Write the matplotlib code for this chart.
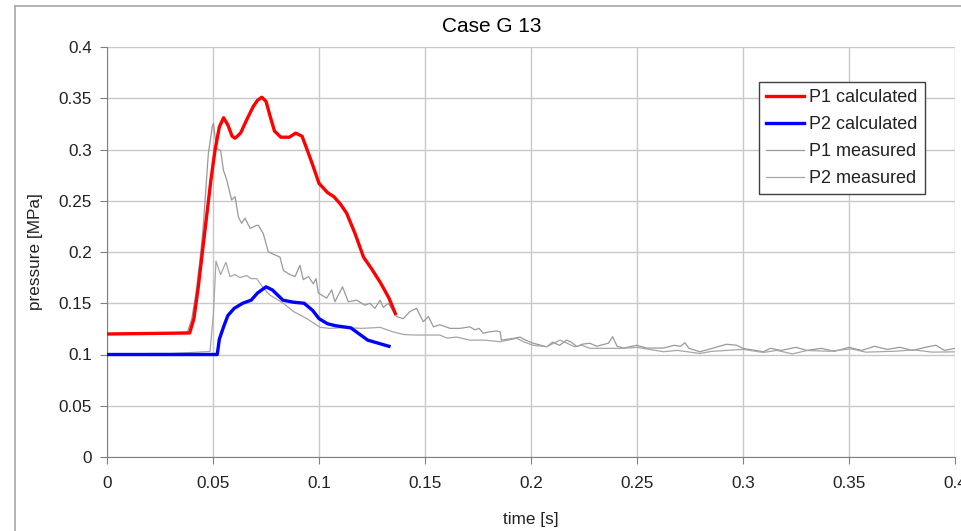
import numpy as np
import matplotlib
matplotlib.use("Agg")
import matplotlib.pyplot as plt
from matplotlib.lines import Line2D

plt.rcParams["font.family"] = ["Liberation Sans", "DejaVu Sans"]

# P1 calculated
t_p1_calc = [0, 0.039, 0.041, 0.043, 0.045, 0.047, 0.049, 0.051, 0.053, 0.055,
             0.057, 0.059, 0.0604, 0.063, 0.0659, 0.069, 0.071, 0.073, 0.075, 0.077,
             0.079, 0.082, 0.086, 0.089, 0.092, 0.094, 0.097, 0.100, 0.104, 0.107,
             0.110, 0.113, 0.117, 0.121, 0.125, 0.129, 0.133, 0.136]
p_p1_calc = [0.12, 0.121, 0.135, 0.165, 0.2, 0.235, 0.27, 0.3, 0.322, 0.331,
             0.324, 0.313, 0.311, 0.316, 0.329, 0.342, 0.348, 0.351, 0.347, 0.332,
             0.318, 0.312, 0.312, 0.316, 0.313, 0.302, 0.285, 0.267, 0.258, 0.254,
             0.247, 0.238, 0.218, 0.195, 0.183, 0.17, 0.155, 0.14]

# P2 calculated
t_p2_calc = [0, 0.052, 0.053, 0.055, 0.057, 0.060, 0.064, 0.068, 0.071, 0.075,
             0.078, 0.083, 0.088, 0.093, 0.097, 0.100, 0.104, 0.108, 0.115, 0.119,
             0.123, 0.128, 0.133]
p_p2_calc = [0.1, 0.1, 0.115, 0.127, 0.138, 0.145, 0.15, 0.153, 0.16, 0.166,
             0.163, 0.153, 0.151, 0.15, 0.143, 0.135, 0.13, 0.128, 0.126, 0.12,
             0.114, 0.111, 0.108]

# P1 measured
t_p1_meas = [0, 0.01, 0.02, 0.03, 0.038, 0.040, 0.042, 0.044, 0.0454, 0.0478,
             0.0497, 0.0502, 0.0517, 0.0536, 0.0549, 0.0565, 0.0588, 0.0604, 0.062, 0.0635,
             0.0651, 0.0675, 0.0706, 0.0714, 0.0737, 0.0761, 0.0816, 0.0832, 0.0863, 0.0887,
             0.091, 0.0926, 0.095, 0.0973, 0.0986, 0.0997, 0.1036, 0.106, 0.1075, 0.1111,
             0.1138, 0.1178, 0.1217, 0.124, 0.1264, 0.1288, 0.1303, 0.1327, 0.1366, 0.1398,
             0.1429, 0.146, 0.1492, 0.1516, 0.154, 0.157, 0.1618, 0.1665, 0.1712, 0.1735,
             0.1755, 0.1775, 0.180, 0.1838, 0.1855, 0.186, 0.1925, 0.1948, 0.1975, 0.201,
             0.2074, 0.2102, 0.2135, 0.2168, 0.219, 0.2217, 0.224, 0.2278, 0.2309, 0.2365,
             0.2385, 0.2406, 0.2437, 0.2498, 0.2545, 0.2625, 0.2676, 0.2705, 0.2726, 0.2745,
             0.2797, 0.2855, 0.2923, 0.297, 0.300, 0.3096, 0.313, 0.318, 0.325, 0.330,
             0.337, 0.343, 0.350, 0.356, 0.362, 0.368, 0.374, 0.380, 0.386, 0.391,
             0.395, 0.400]
p_p1_meas = [0.12, 0.121, 0.12, 0.121, 0.122, 0.135, 0.16, 0.195, 0.225, 0.296,
             0.323, 0.3255, 0.301, 0.299, 0.28, 0.270, 0.2507, 0.254, 0.234, 0.228,
             0.233, 0.223, 0.226, 0.226, 0.218, 0.200, 0.195, 0.182, 0.178, 0.176,
             0.187, 0.173, 0.176, 0.169, 0.174, 0.160, 0.155, 0.163, 0.1515, 0.166,
             0.1515, 0.153, 0.148, 0.150, 0.145, 0.153, 0.146, 0.150, 0.137, 0.135,
             0.142, 0.145, 0.132, 0.137, 0.127, 0.129, 0.1255, 0.1255, 0.127, 0.124,
             0.1255, 0.1207, 0.122, 0.123, 0.122, 0.114, 0.116, 0.117, 0.114, 0.111,
             0.1076, 0.112, 0.109, 0.114, 0.112, 0.1076, 0.110, 0.111, 0.108, 0.111,
             0.1174, 0.108, 0.1063, 0.109, 0.1063, 0.1063, 0.109, 0.108, 0.1115, 0.106,
             0.1027, 0.106, 0.110, 0.109, 0.106, 0.1027, 0.106, 0.104, 0.107, 0.104,
             0.106, 0.103, 0.107, 0.104, 0.108, 0.105, 0.107, 0.104, 0.107, 0.109,
             0.104, 0.106]

# P2 measured
t_p2_meas = [0, 0.01, 0.02, 0.03, 0.04, 0.0486, 0.0502, 0.0514, 0.0536, 0.0561,
             0.058, 0.0604, 0.0627, 0.0659, 0.068, 0.0706, 0.0737, 0.0768, 0.0832, 0.0879,
             0.0942, 0.1005, 0.105, 0.110, 0.115, 0.120, 0.125, 0.1288, 0.135, 0.140,
             0.145, 0.150, 0.157, 0.1604, 0.165, 0.1712, 0.178, 0.1854, 0.189, 0.1933,
             0.197, 0.201, 0.2074, 0.2137, 0.217, 0.2205, 0.224, 0.2278, 0.235, 0.2437,
             0.250, 0.2625, 0.269, 0.2797, 0.285, 0.2923, 0.300, 0.3096, 0.316, 0.3233,
             0.3302, 0.3406, 0.351, 0.358, 0.3719, 0.3806, 0.3892, 0.400]
p_p2_meas = [0.1, 0.1, 0.101, 0.101, 0.102, 0.103, 0.14, 0.191, 0.178, 0.19,
             0.176, 0.178, 0.175, 0.177, 0.174, 0.174, 0.165, 0.158, 0.15, 0.142,
             0.135, 0.1265, 0.1255, 0.126, 0.126, 0.1255, 0.126, 0.1265, 0.122, 0.1195,
             0.119, 0.119, 0.119, 0.116, 0.117, 0.114, 0.114, 0.1125, 0.114, 0.1158,
             0.112, 0.109, 0.1076, 0.114, 0.111, 0.1076, 0.109, 0.106, 0.106, 0.106,
             0.107, 0.1027, 0.104, 0.101, 0.103, 0.104, 0.105, 0.102, 0.104, 0.1006,
             0.1039, 0.1032, 0.1055, 0.1023, 0.1032, 0.1045, 0.1023, 0.1026]

tick_vals = [0, 0.05, 0.1, 0.15, 0.2, 0.25, 0.3, 0.35, 0.4]
tick_labels = ["0", "0.05", "0.1", "0.15", "0.2", "0.25", "0.3", "0.35", "0.4"]

fig = plt.figure(figsize=(9.62, 5.31), dpi=100)
ax = fig.add_axes([107 / 962, 1 - 457 / 531, 848 / 962, 410 / 531])

# outer chart-area border (top and left edges visible)
fig.add_artist(Line2D([15 / 962, 1.0], [1 - 6 / 531, 1 - 6 / 531], transform=fig.transFigure,
                      color="#a8a8a8", lw=1.2))
fig.add_artist(Line2D([15 / 962, 15 / 962], [0, 1 - 6 / 531], transform=fig.transFigure,
                      color="#a8a8a8", lw=1.2))

ax.plot(t_p1_meas, p_p1_meas, color="#999999", lw=0.9, label="P1 measured", zorder=3)
ax.plot(t_p2_meas, p_p2_meas, color="#a6a6a6", lw=0.9, label="P2 measured", zorder=3)
ax.plot(t_p1_calc, p_p1_calc, color="#ff0000", lw=2.4, label="P1 calculated", zorder=4)
ax.plot(t_p2_calc, p_p2_calc, color="#0000ff", lw=2.4, label="P2 calculated", zorder=4)

ax.set_xlim(0, 0.4)
ax.set_ylim(0, 0.4)
ax.set_xticks(tick_vals)
ax.set_xticklabels(tick_labels)
ax.set_yticks(tick_vals)
ax.set_yticklabels(tick_labels)
ax.grid(True, color="#c8c8c8", lw=1)
ax.set_axisbelow(True)
for side in ["top", "right"]:
    ax.spines[side].set_visible(False)
for side in ["left", "bottom"]:
    ax.spines[side].set_color("#808080")
ax.tick_params(direction="out", length=5, color="#808080", labelsize=12.3,
               labelcolor="#222222")
ax.tick_params(axis="x", pad=9)
ax.tick_params(axis="y", pad=6)

ax.set_xlabel("time [s]", fontsize=12.3, color="#222222")
ax.set_ylabel("pressure [MPa]", fontsize=12.3, color="#222222")
ax.xaxis.set_label_coords(0.5, -0.134)
ax.yaxis.set_label_coords(-0.0755, 0.5)

fig.text(492 / 962, 1 - 27 / 531, "Case G 13", ha="center", va="center",
         fontsize=15, color="#000000")

handles, labels = ax.get_legend_handles_labels()
order = [2, 3, 0, 1]
leg = ax.legend([handles[i] for i in order], [labels[i] for i in order],
                loc="upper right", bbox_to_anchor=(0.9646, 0.9146), borderaxespad=0,
                fontsize=13, frameon=True, fancybox=False, framealpha=1,
                edgecolor="#404040", handlelength=2.1, handletextpad=0.3,
                labelspacing=0.55, borderpad=0.4)
leg.get_frame().set_linewidth(1.0)
for txt in leg.get_texts():
    txt.set_color("#222222")

fig.savefig("out.png", dpi=100)
